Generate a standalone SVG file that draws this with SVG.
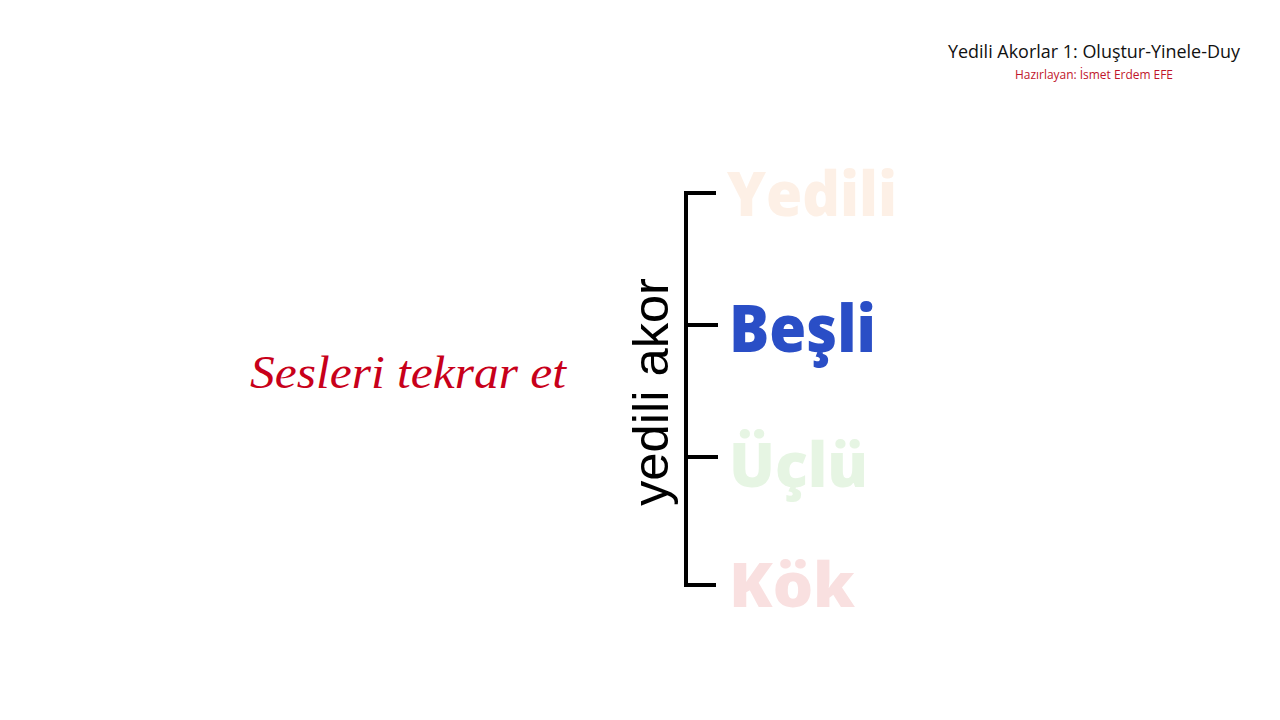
<svg xmlns="http://www.w3.org/2000/svg" width="1280" height="720" viewBox="0 0 1280 720">
<style>
.title{font-family:"Open Sans","Liberation Sans",sans-serif;font-size:18px;fill:#111}
.sub{font-family:"Open Sans","Liberation Sans",sans-serif;font-size:12px;fill:#c0142a}
.word{font-family:"Open Sans","Liberation Sans",sans-serif;font-weight:800}
.bracket{stroke:#000;stroke-width:4;fill:none;stroke-linecap:butt;stroke-linejoin:miter}
</style>
<rect width="1280" height="720" fill="#fff"/>
<g id="header">
<text class="title" x="1240" y="58" text-anchor="end" textLength="292" lengthAdjust="spacingAndGlyphs">Yedili Akorlar 1: Oluştur-Yinele-Duy</text>
<text class="sub" x="1094" y="79" text-anchor="middle" textLength="158" lengthAdjust="spacingAndGlyphs">Hazırlayan: İsmet Erdem EFE</text>
</g>
<g id="instruction">
<text x="250" y="388" font-family="Liberation Serif, serif" font-style="italic" font-size="46" fill="#c8001a" textLength="316" lengthAdjust="spacingAndGlyphs">Sesleri tekrar et</text>
</g>
<g id="axis-label">
<text transform="translate(668,506) rotate(-90)" font-family="Liberation Sans, sans-serif" font-size="50" fill="#000" textLength="228" lengthAdjust="spacingAndGlyphs">yedili akor</text>
</g>
<g id="connectors">
<path class="bracket" d="M716,193 H686 V585 H716"/>
<path class="bracket" d="M686,325 H718"/>
<path class="bracket" d="M686,457 H718"/>
</g>
<g id="node-yedili">
<text class="word" x="727" y="216" font-size="62" fill="#fdf0e6" textLength="170" lengthAdjust="spacingAndGlyphs">Yedili</text>
</g>
<g id="node-besli">
<text class="word" x="729" y="352" font-size="66" fill="#2a4ec6" textLength="147" lengthAdjust="spacingAndGlyphs">Beşli</text>
</g>
<g id="node-uclu">
<text class="word" x="729" y="487" font-size="62" fill="#e6f5e3" textLength="139" lengthAdjust="spacingAndGlyphs">Üçlü</text>
</g>
<g id="node-kok">
<text class="word" x="729" y="607" font-size="62" fill="#f9e0e0" textLength="126" lengthAdjust="spacingAndGlyphs">Kök</text>
</g>
</svg>
